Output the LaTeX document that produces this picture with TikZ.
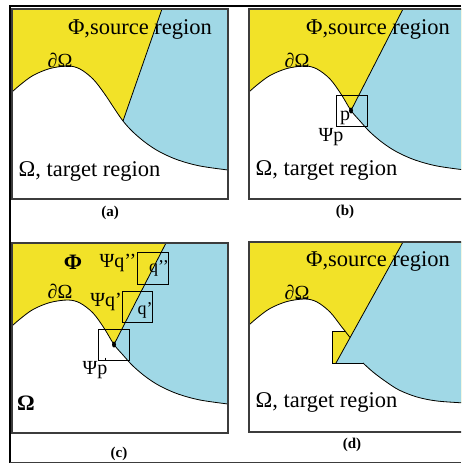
\documentclass[tikz,border=0pt]{standalone}
\usepackage{fontspec}
\setmainfont{Liberation Serif}
\definecolor{srcyellow}{RGB}{242,226,40}
\definecolor{srcblue}{RGB}{160,216,230}
\definecolor{boxgray}{RGB}{60,60,60}
\tikzset{
  lbl/.style={font=\fontsize{22.5}{24}\selectfont, inner sep=0pt},
  sm/.style={font=\fontsize{20}{22}\selectfont, inner sep=0pt},
  smq/.style={font=\fontsize{18}{20}\selectfont, inner sep=0pt},
  boldlbl/.style={font=\bfseries\fontsize{22}{24}\selectfont, inner sep=0pt},
  capt/.style={font=\bfseries\fontsize{15}{17}\selectfont, inner sep=0pt},
  panel/.style={draw=boxgray, line width=1.3pt},
  edgeline/.style={draw=black, line width=0.8pt},
  sqbox/.style={draw=black, line width=0.9pt},
}
\begin{document}
\begin{tikzpicture}[x=1pt,y=-1pt]
\useasboundingbox (0,0) rectangle (461,463);
\clip (0,0) rectangle (461,463);

% ---------- panel (a)
\begin{scope}
  \begin{scope}
    \clip (12,9) rectangle (228,199);
    \clip (12,0) -- plot[smooth,tension=0.55] coordinates {(12,92) (20,85) (33,75.5) (50,68.5) (68,66) (80,69) (93,79) (104,93) (114,108) (123,121) (133,132) (146,143) (160,152) (178,160) (200,166) (228,170)} -- (240,170) -- (240,0) -- cycle;
    \fill[srcyellow] (0,0) rectangle (240,200);
    \fill[srcblue] (165,0) -- (95.5,200) -- (240,200) -- (240,0) -- cycle;
  \end{scope}
  \draw[edgeline] plot[smooth,tension=0.55] coordinates {(12,92) (20,85) (33,75.5) (50,68.5) (68,66) (80,69) (93,79) (104,93) (114,108) (123,121) (133,132) (146,143) (160,152) (178,160) (200,166) (228,170)};
  \draw[edgeline] (162,9) -- (123,121);
  \draw[panel] (12,9) rectangle (228,199);
\end{scope}

% ---------- panel (b)
\begin{scope}[shift={(237,0)}]
  \begin{scope}
    \clip (12,9) rectangle (228,199);
    \clip (12,0) -- plot[smooth,tension=0.55] coordinates {(12,92) (20,85) (33,75.5) (50,68.5) (68,66) (80,69) (93,79) (104,94) (114,110.5) (123,121) (133,132) (146,143) (160,152) (178,160) (200,166) (228,170)} -- (240,170) -- (240,0) -- cycle;
    \fill[srcyellow] (0,0) rectangle (240,200);
    \fill[srcblue] (170.6,0) -- (68,200) -- (240,200) -- (240,0) -- cycle;
  \end{scope}
  \draw[edgeline] plot[smooth,tension=0.55] coordinates {(12,92) (20,85) (33,75.5) (50,68.5) (68,66) (80,69) (93,79) (104,94) (114,110.5) (123,121) (133,132) (146,143) (160,152) (178,160) (200,166) (228,170)};
  \draw[edgeline] (166,9) -- (114,110.5);
  \draw[panel] (12,9) rectangle (228,199);
\end{scope}
\draw[sqbox] (336,95) rectangle (367,126);
\fill[black] (351,110.5) ellipse [x radius=2, y radius=3];

% ---------- panel (c)
\begin{scope}[shift={(0,234)}]
  \begin{scope}
    \clip (12,9) rectangle (228,199);
    \clip (12,0) -- plot[smooth,tension=0.55] coordinates {(12,92) (20,85) (33,75.5) (50,68.5) (68,66) (80,69) (93,79) (104,94) (114,110.5) (123,121) (133,132) (146,143) (160,152) (178,160) (200,166) (228,170)} -- (240,170) -- (240,0) -- cycle;
    \fill[srcyellow] (0,0) rectangle (240,200);
    \fill[srcblue] (170.6,0) -- (68,200) -- (240,200) -- (240,0) -- cycle;
  \end{scope}
  \draw[edgeline] plot[smooth,tension=0.55] coordinates {(12,92) (20,85) (33,75.5) (50,68.5) (68,66) (80,69) (93,79) (104,94) (114,110.5) (123,121) (133,132) (146,143) (160,152) (178,160) (200,166) (228,170)};
  \draw[edgeline] (166,9) -- (114,110.5);
  \draw[panel] (12,9) rectangle (228,199);
\end{scope}
\draw[sqbox] (98.5,329.5) rectangle (129.5,360.5);
\draw[sqbox] (122,291) rectangle (152,322);
\draw[sqbox] (137,252) rectangle (168,284);
\fill[black] (114,344.5) ellipse [x radius=2, y radius=3];
\draw[line width=0.6pt] (105,357.5) -- (105,361);

% ---------- panel (d)
\begin{scope}[shift={(237,233)}]
  \begin{scope}
    \clip (12,9) rectangle (228,199);
    \clip (12,0) -- plot[smooth,tension=0.55] coordinates {(12,92) (20,85) (33,75.5) (50,68.5) (68,66) (80,69) (93,79) (104,93) (108,98)} -- (95,98) -- (95,130) -- plot[smooth,tension=0.55] coordinates {(126,130) (136,139) (148,148) (162,157) (180,164) (200,168) (228,170)} -- (240,170) -- (240,0) -- cycle;
    \fill[srcyellow] (0,0) rectangle (240,200);
    \fill[srcblue] (171,0) -- (60.2,200) -- (240,200) -- (240,0) -- cycle;
  \end{scope}
  \draw[edgeline] plot[smooth,tension=0.55] coordinates {(12,92) (20,85) (33,75.5) (50,68.5) (68,66) (80,69) (93,79) (104,93) (108,98)};
  \draw[edgeline] (108,98) -- (113,104.5);
  \draw[sqbox] (108,98) -- (95,98) -- (95,130) -- (126,130);
  \draw[edgeline] plot[smooth,tension=0.55] coordinates {(126,130) (136,139) (148,148) (162,157) (180,164) (200,168) (228,170)};
  \draw[edgeline] (166,9) -- (99,130);
  \draw[panel] (12,9) rectangle (228,199);
\end{scope}

% ---------- outer frame
\draw[line width=2.3pt] (461,6) -- (10,6) -- (10,463);
\draw[boxgray, line width=1pt] (10,462) -- (461,462);

% ---------- labels (a)
\node[lbl] (phiA) at (140,29) {Φ,source region};
\node[sm] (dA) at (60,60) {∂Ω};
\node[lbl] (omA) at (89.5,171) {Ω, target region};
\node[capt] (capA) at (110,213) {(a)};

% ---------- labels (b)
\node[lbl] (phiB) at (378,29) {Φ,source region};
\node[sm] (dB) at (297,60) {∂Ω};
\node[sm] (pB) at (345,118) {p};
\node[sm] (psiB) at (331,137) {Ψp};
\node[lbl] (omB) at (326.5,170) {Ω, target region};
\node[capt] (capB) at (345,212) {(b)};

% ---------- labels (c)
\node[boldlbl] (phiC) at (73,262) {Φ};
\node[sm] (psiqq) at (118,263) {Ψq’’};
\node[sm] (psiq) at (106,302) {Ψq’};
\node[smq] (qq) at (159,268) {q’’};
\node[smq] (q) at (145,310) {q’};
\node[sm] (dC) at (60,291) {∂Ω};
\node[sm] (psipC) at (95,370) {Ψp};
\node[boldlbl] (omC) at (26,403) {Ω};
\node[capt] (capC) at (119,454) {(c)};

% ---------- labels (d)
\node[lbl] (phiD) at (378,261) {Φ,source region};
\node[sm] (dD) at (297,292) {∂Ω};
\node[lbl] (omD) at (326.5,402) {Ω, target region};
\node[capt] (capD) at (352,445) {(d)};
\end{tikzpicture}
\end{document}
